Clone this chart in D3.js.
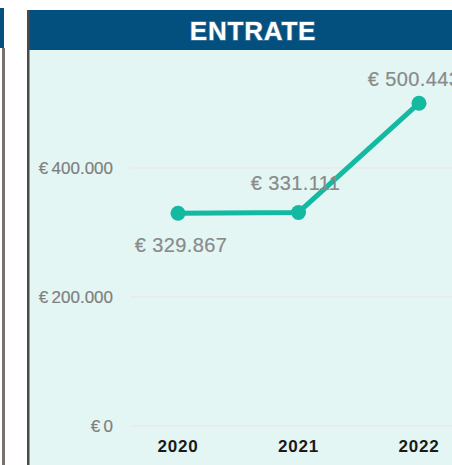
<!DOCTYPE html>
<html>
<head>
<meta charset="utf-8">
<script src="https://cdn.jsdelivr.net/npm/d3@7"></script>
<style>
	body { margin: 0; background: #fff; }
	svg { display: block; }
</style>
</head>
<body>
<div id="chart"></div>
<script>
const years = ['2020', '2021', '2022'];
const entrate = [329867, 331111, 500443];
const tickValues = [0, 200000, 400000];

const width = 452;
const height = 465;

// label placement per point: dx, dy from the point
const labelOffset = [
	{ dx: 3, dy: 39 },
	{ dx: -3, dy: -22 },
	{ dx: -5, dy: -17 }
];

const svg = d3.select('#chart')
	.append('svg')
	.attr('width', width)
	.attr('height', height);

// neighbouring panel, cut off on the left
svg.append('rect')
	.attr('x', 0).attr('y', 8)
	.attr('width', 4).attr('height', 40)
	.attr('fill', '#05507e');
svg.append('rect')
	.attr('x', 2).attr('y', 48)
	.attr('width', 3).attr('height', height - 48)
	.attr('fill', '#7a6e6e');

// main panel
const panelX = 27;
svg.append('rect')
	.attr('x', panelX).attr('y', 50)
	.attr('width', width - panelX).attr('height', height - 50)
	.attr('fill', '#e3f6f4');
svg.append('rect')
	.attr('x', panelX).attr('y', 10)
	.attr('width', width - panelX).attr('height', 40)
	.attr('fill', '#03507f');
svg.append('rect')
	.attr('x', panelX).attr('y', 10)
	.attr('width', 2.5).attr('height', height - 10)
	.attr('fill', '#4a4a4a');

svg.append('text')
	.attr('x', 253)
	.attr('y', 40)
	.attr('text-anchor', 'middle')
	.attr('font-family', 'Liberation Sans, Arial, sans-serif')
	.attr('font-weight', 'bold')
	.attr('font-size', 26)
	.attr('letter-spacing', 0.8)
	.attr('fill', '#fff')
	.style('paint-order', 'stroke')
	.attr('stroke', 'rgba(255,255,255,0.25)')
	.attr('stroke-width', 1.5)
	.text('ENTRATE');

// scales
const x = d3.scalePoint()
	.domain(years)
	.range([178, 419]);

const y = d3.scaleLinear()
	.domain([0, 400000])
	.range([426, 168]);

// gridlines
svg.append('g')
	.selectAll('line')
	.data(tickValues)
	.join('line')
	.attr('x1', 130)
	.attr('x2', width)
	.attr('y1', (d) => y(d))
	.attr('y2', (d) => y(d))
	.attr('stroke', '#e9e4e4')
	.attr('stroke-width', 1);

const fmt = (v) => '€ ' + d3.format(',')(v).replace(/,/g, '.');

// y axis labels
svg.append('g')
	.selectAll('text')
	.data(tickValues)
	.join('text')
	.attr('x', 113)
	.attr('y', (d) => y(d) + 6)
	.attr('text-anchor', 'end')
	.attr('font-family', 'Liberation Sans, Arial, sans-serif')
	.attr('font-size', 17)
	.attr('fill', '#7f7f7f')
	.attr('stroke', '#7f7f7f')
	.attr('stroke-width', 0.2)
	.text((d) => fmt(d).replace('€ ', '€\u2009'));

// x axis labels
svg.append('g')
	.selectAll('text')
	.data(years)
	.join('text')
	.attr('x', (d) => x(d))
	.attr('y', 452)
	.attr('text-anchor', 'middle')
	.attr('font-family', 'Liberation Sans, Arial, sans-serif')
	.attr('font-weight', 'bold')
	.attr('font-size', 17)
	.attr('letter-spacing', 0.8)
	.attr('fill', '#1a1a1a')
	.text((d) => d);

// line
const line = d3.line()
	.x((d, i) => x(years[i]))
	.y((d) => y(d));

svg.append('path')
	.datum(entrate)
	.attr('d', line)
	.attr('fill', 'none')
	.attr('stroke', '#14b9a1')
	.attr('stroke-width', 5)
	.attr('stroke-linejoin', 'round');

svg.append('g')
	.selectAll('circle')
	.data(entrate)
	.join('circle')
	.attr('cx', (d, i) => x(years[i]))
	.attr('cy', (d) => y(d))
	.attr('r', 7.5)
	.attr('fill', '#14b9a1');

// data labels
svg.append('g')
	.selectAll('text')
	.data(entrate)
	.join('text')
	.attr('x', (d, i) => x(years[i]) + labelOffset[i].dx)
	.attr('y', (d, i) => y(d) + labelOffset[i].dy)
	.attr('text-anchor', 'middle')
	.attr('font-family', 'Liberation Sans, Arial, sans-serif')
	.attr('font-size', 20)
	.attr('letter-spacing', 0.4)
	.attr('fill', '#8a8a8a')
	.attr('stroke', '#8a8a8a')
	.attr('stroke-width', 0.2)
	.text((d) => fmt(d));
</script>
</body>
</html>
